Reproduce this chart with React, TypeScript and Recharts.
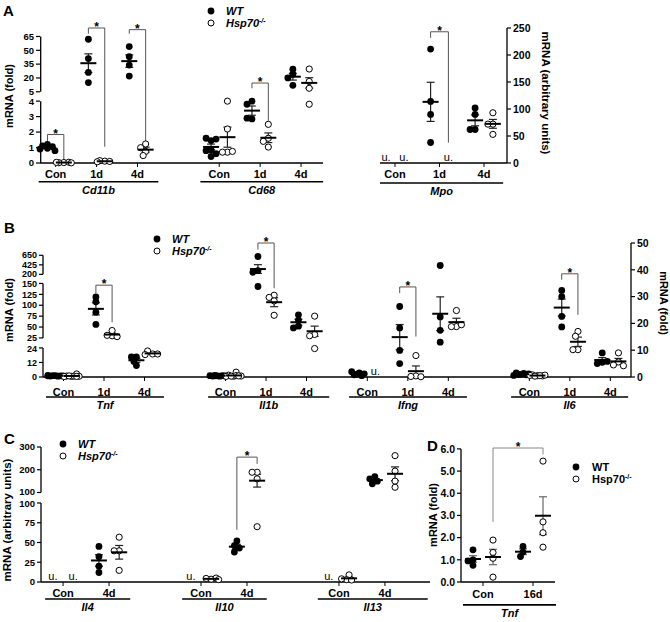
import React from 'react';
import { ScatterChart, Scatter, XAxis, YAxis, ErrorBar, ReferenceLine } from 'recharts';

const FONT = '"Liberation Sans", Arial, Helvetica, sans-serif';

// ---------------- data ----------------
const condTime = ['Con', '1d', '4d'];
const condIL = ['Con', '4d'];
const condD = ['Con', '16d'];

// Panel A
const cd11bWT = [[1.2, 1.1, 1.05, 0.95, 0.9, 0.8], [62, 41, 26, 15], [54, 43, 34, 22]];
const cd11bKO = [[0.03, 0.02, 0.05, 0.01, 0.04], [0.12, 0.15, 0.1, 0.08], [1.23, 0.99, 0.75, 0.48]];
const cd68WT = [[1.45, 1.6, 1.55, 0.85, 0.8, 0.42, 0.6], [4.0, 3.8, 2.85, 2.9], [29.5, 24, 20, 12]];
const cd68KO = [[4.0, 2.2, 0.7, 0.7, 0.75], [2.5, 1.6, 1.4, 1.03], [29.7, 16.2, 8.8, 3.8]];
const mpoWT = [[], [211, 114, 90, 38], [102, 90, 62, 62]];
const mpoKO = [[], [], [93, 72, 72, 53]];

// Panel B
const tnfWT = [[1.2, 0.8, 1.0, 1.3, 0.7, 1.1, 0.9, 1.0], [108, 119, 84, 56], [16.5, 16.5, 12.8, 9.5]];
const tnfKO = [[0.5, 0.8, 2.5, 0.6, 0.4, 0.7, 0.9, 0.5], [30, 31, 42, 28], [19, 21.5, 19, 18.5]];
const il1bWT = [[1.0, 0.8, 1.2, 0.9, 1.1, 0.7, 1.3, 1.0], [622, 286, 250, 143], [78, 66, 52, 48]];
const il1bKO = [[0.6, 1.5, 4.0, 0.8, 0.5, 1.2, 0.7, 0.9], [123, 118, 110, 77], [75, 33, 30, 23.5]];
const ifngWT = [[1.5, 0.8, 1.2, 2.0, 0.5, 1.0], [26.3, 18.3, 9.9, 5], [41.6, 22.4, 17.4, 13]];
const ifngKO = [[], [8, 0.4, 0.2, 0.1], [24.8, 18.8, 18.8, 19.5]];
const il6WT = [[1.0, 1.5, 0.8, 1.2, 0.6, 1.3, 0.9], [30, 32.3, 22.6, 18.7], [9, 5.5, 5, 5.8]];
const il6KO = [[0.5, 0.8, 0.4, 0.6, 0.7, 0.3, 0.5], [17, 15.2, 10.2, 10.2], [9, 5.6, 4.5, 4.2]];

// Panel C
const il4WT = [[], [45, 32, 20, 12]];
const il4KO = [[], [56.7, 39.5, 39.5, 14.7]];
const il10WT = [[], [52, 46, 43, 38]];
const il10KO = [[3.5, 4.5, 5, 3], [189, 189, 160, 70]];
const il13WT = [[], [170, 160, 150, 138]];
const il13KO = [[9, 3, 2.5, 4], [262, 194, 150, 123]];

// Panel D
const tnf16WT = [[1.45, 1.0, 0.95, 0.75], [1.6, 1.35, 1.15]];
const tnf16KO = [[1.89, 1.33, 1.07, 0.22], [5.45, 2.71, 2.22, 1.57]];

// ---------------- helpers ----------------
type Seg = { v0: number; v1: number; d0: number; d1: number; ticks: number[] };

const makeMap = (segs: Seg[]) => (v: number): number => {
  const lin = (s: Seg, x: number) => s.d0 + ((x - s.v0) * (s.d1 - s.d0)) / (s.v1 - s.v0);
  if (v <= segs[0].v0) return lin(segs[0], v);
  for (let i = 0; i < segs.length; i++) {
    const s = segs[i];
    if (v <= s.v1) return lin(s, v);
    const n = segs[i + 1];
    if (n && v < n.v0) return s.d1 + ((v - s.v1) * (n.d0 - s.d1)) / (n.v0 - s.v1);
  }
  return lin(segs[segs.length - 1], v);
};

const OFFS = [0, -2.5, 2.5, -5, 5, -7.5, 7.5];
const MIN_D = 5;

const xTickStyle = { fill: '#000', fontSize: 11, fontWeight: 'bold', fontFamily: FONT };

function DotChart({ cfg }: { cfg: any }) {
  const PL = 46, PR = 46, PT = 34, PB = 46, YW = 38, XH = 22;
  const hasL = !!cfg.segL, hasR = !!cfg.segR;
  const mapL = hasL ? makeMap(cfg.segL) : null;
  const mapR = hasR ? makeMap(cfg.segR) : null;
  const mapFor = (a: string) => (a === 'l' ? mapL : mapR) as (v: number) => number;
  const pxPerX = cfg.w / (cfg.xDomain[1] - cfg.xDomain[0]);
  const mk = () => ({ wt: [] as any[], ko: [] as any[], mean: [] as any[], u: [] as any[], star: [] as any[] });
  const S: any = { l: mk(), r: mk() };

  cfg.genes.forEach((g: any) => {
    const m = mapFor(g.axis);
    g.pos.forEach((p: number, i: number) => {
      const sets: any[] = [['wt', g.wt[i], -1], ['ko', g.ko[i], 1]];
      sets.forEach(([key, vals, s]) => {
        const cx = p + s * cfg.off;
        if (!vals || vals.length === 0) {
          S[g.axis].u.push({ x: cx, y: 0 });
          return;
        }
        const placed: number[][] = [];
        vals.forEach((v: number) => {
          const y = m(v);
          let best = 0, bestD = -1;
          for (const o of OFFS) {
            let dmin = Infinity;
            placed.forEach(([po, py]) => { dmin = Math.min(dmin, Math.hypot(po - o, py - y)); });
            if (dmin >= MIN_D) { best = o; break; }
            if (dmin > bestD) { bestD = dmin; best = o; }
          }
          placed.push([best, y]);
          S[g.axis][key].push({ x: cx + best / pxPerX, y });
        });
        const n = vals.length;
        const mean = vals.reduce((a: number, b: number) => a + b, 0) / n;
        const sd = n > 1 ? Math.sqrt(vals.reduce((a: number, b: number) => a + (b - mean) ** 2, 0) / (n - 1)) : 0;
        const sem = sd / Math.sqrt(n);
        const ym = m(mean);
        S[g.axis].mean.push({ x: cx, y: ym, e: [ym - m(mean - sem), m(mean + sem) - ym] });
      });
    });
  });

  const brLines: any[] = [];
  cfg.brackets.forEach((b: any) => {
    const g = cfg.genes[b.g];
    const m = mapFor(g.axis);
    const x1 = g.pos[b.c1] + b.s1 * cfg.off;
    const x2 = g.pos[b.c2] + b.s2 * cfg.off;
    const t = m(b.top);
    S[g.axis].star.push({ x: (x1 + x2) / 2, y: t });
    brLines.push({ a: g.axis, seg: [{ x: x1, y: m(b.b1) }, { x: x1, y: t }] });
    brLines.push({ a: g.axis, seg: [{ x: x1, y: t }, { x: x2, y: t }] });
    brLines.push({ a: g.axis, seg: [{ x: x2, y: t }, { x: x2, y: m(b.b2) }] });
  });

  const xTicks: number[] = [];
  const xLab: string[] = [];
  cfg.genes.forEach((g: any) => g.pos.forEach((p: number, i: number) => { xTicks.push(p); xLab.push(g.conds[i]); }));
  const xFmt = (v: number) => {
    const k = xTicks.findIndex((t) => Math.abs(t - v) < 1e-6);
    return k >= 0 ? xLab[k] : '';
  };

  // y ticks: labels per segment; labels at a break are nudged apart slightly
  const yInfo = (segs: Seg[]) => {
    const ds: number[] = [];
    const ls: string[] = [];
    const sh: number[] = [];
    segs.forEach((s, si) => s.ticks.forEach((t, ti) => {
      ds.push(s.d0 + ((t - s.v0) * (s.d1 - s.d0)) / (s.v1 - s.v0));
      ls.push(cfg.fmt ? cfg.fmt(t) : String(t));
      let shift = 0;
      if (si < segs.length - 1 && ti === s.ticks.length - 1) shift = 0.6;
      if (si > 0 && ti === 0) shift = -0.6;
      sh.push(shift);
    }));
    const find = (v: number) => {
      let k = 0, bd = Infinity;
      ds.forEach((d, i) => { if (Math.abs(d - v) < bd) { bd = Math.abs(d - v); k = i; } });
      return k;
    };
    return { ds, ls, sh, find };
  };
  const yl = hasL ? yInfo(cfg.segL) : null;
  const yr = hasR ? yInfo(cfg.segR) : null;
  const mainAxis = hasL ? 'l' : 'r';

  const makeYTick = (info: any, anchor: string, size: number) => (p: any) => {
    const k = info.find(p.payload.value);
    return (
      <text x={p.x} y={p.y + info.sh[k]} dy="0.355em" textAnchor={anchor} fontSize={size} fontWeight="bold" fontFamily={FONT} fill="#000">
        {info.ls[k]}
      </text>
    );
  };

  const dotShape = (p: any) => <circle cx={p.cx} cy={p.cy} r={3.4} fill="#000" />;
  const openShape = (p: any) => <circle cx={p.cx} cy={p.cy} r={3.1} fill="#fff" stroke="#000" strokeWidth={1} />;
  const meanShape = (p: any) => <line x1={p.cx - 8} x2={p.cx + 8} y1={p.cy} y2={p.cy} stroke="#000" strokeWidth={2} />;
  const uShape = (p: any) => (
    <text x={p.cx} y={p.cy - 2} textAnchor="middle" fontSize={11} fontFamily={FONT} fill="#000">u.</text>
  );
  const starShape = (p: any) => (
    <text x={p.cx} y={p.cy + 3} textAnchor="middle" fontSize={12} fontWeight="bold" fontFamily={FONT} fill="#000">*</text>
  );

  const series = (a: string) => {
    const s = S[a];
    const out: any[] = [];
    if (s.wt.length) out.push(<Scatter key={a + 'wt'} yAxisId={a} data={s.wt} shape={dotShape} isAnimationActive={false} />);
    if (s.ko.length) out.push(<Scatter key={a + 'ko'} yAxisId={a} data={s.ko} shape={openShape} isAnimationActive={false} />);
    if (s.mean.length) out.push(
      <Scatter key={a + 'mean'} yAxisId={a} data={s.mean} shape={meanShape} isAnimationActive={false}>
        <ErrorBar dataKey="e" direction="y" width={4} stroke={cfg.errColor || '#222'} strokeWidth={1.2} />
      </Scatter>
    );
    if (s.u.length) out.push(<Scatter key={a + 'u'} yAxisId={a} data={s.u} shape={uShape} isAnimationActive={false} />);
    if (s.star.length) out.push(<Scatter key={a + 'star'} yAxisId={a} data={s.star} shape={starShape} isAnimationActive={false} />);
    return out;
  };

  return (
    <div style={{ position: 'absolute', left: cfg.left - PL, top: cfg.top - PT }}>
      <ScatterChart
        width={cfg.w + PL + PR}
        height={cfg.h + PT + PB}
        margin={{ top: PT, bottom: PB - XH, left: hasL ? PL - YW : PL, right: hasR ? PR - YW : PR }}
      >
        <XAxis
          type="number"
          dataKey="x"
          domain={cfg.xDomain}
          ticks={xTicks}
          interval={0}
          tickFormatter={xFmt}
          height={XH}
          tickSize={4}
          tickMargin={cfg.tickMargin}
          axisLine={{ stroke: '#000', strokeWidth: 1.3 }}
          tickLine={{ stroke: '#000', strokeWidth: 1 }}
          tick={xTickStyle}
        />
        {hasL && (
          <YAxis
            yAxisId="l"
            type="number"
            dataKey="y"
            domain={[0, cfg.h]}
            ticks={yl!.ds}
            interval={0}
            width={YW}
            tickSize={4}
            tickMargin={2}
            axisLine={false}
            tickLine={{ stroke: '#000', strokeWidth: 1.2 }}
            tick={makeYTick(yl, 'end', cfg.yFont || 9)}
          />
        )}
        {hasR && (
          <YAxis
            yAxisId="r"
            orientation="right"
            type="number"
            dataKey="y"
            domain={[0, cfg.h]}
            ticks={yr!.ds}
            interval={0}
            width={YW}
            tickSize={4}
            tickMargin={2}
            axisLine={false}
            tickLine={{ stroke: '#000', strokeWidth: 1.2 }}
            tick={makeYTick(yr, 'start', 10.5)}
          />
        )}
        {hasL && cfg.segL.map((s: Seg, i: number) => (
          <ReferenceLine key={'al' + i} yAxisId="l" ifOverflow="visible" stroke="#000" strokeWidth={1.3}
            segment={[{ x: cfg.xDomain[0], y: s.d0 }, { x: cfg.xDomain[0], y: s.d1 }]} />
        ))}
        {hasR && cfg.segR.map((s: Seg, i: number) => (
          <ReferenceLine key={'ar' + i} yAxisId="r" ifOverflow="visible" stroke="#000" strokeWidth={1.3}
            segment={[{ x: cfg.xDomain[1], y: s.d0 }, { x: cfg.xDomain[1], y: s.d1 }]} />
        ))}
        {cfg.genes.map((g: any, i: number) => (
          <ReferenceLine key={'gl' + i} yAxisId={mainAxis} ifOverflow="visible" stroke="#000" strokeWidth={1.6}
            segment={[{ x: g.span[0], y: cfg.ud }, { x: g.span[1], y: cfg.ud }]}
            label={{ value: g.name, position: 'bottom', offset: 4, fill: '#000', fontSize: 11, fontWeight: 'bold', fontStyle: 'italic', fontFamily: FONT }} />
        ))}
        {brLines.map((b, i) => (
          <ReferenceLine key={'br' + i} yAxisId={b.a} ifOverflow="visible" stroke={cfg.brColor || '#555'} strokeWidth={1} segment={b.seg} />
        ))}
        {hasL && series('l')}
        {hasR && series('r')}
      </ScatterChart>
    </div>
  );
}

// ---------------- panel layouts ----------------
const cfgA = {
  left: 40, top: 28, w: 283, h: 135, xDomain: [0.634, 7.537], off: 0.2, ud: -20, tickMargin: 3, yFont: 9.5,
  segL: [
    { v0: 0, v1: 4, d0: 0, d1: 66, ticks: [0, 1, 2, 3, 4] },
    { v0: 5, v1: 65, d0: 76, d1: 135, ticks: [5, 20, 35, 50, 65] },
  ],
  genes: [
    { name: 'Cd11b', pos: [1, 2, 3], conds: condTime, wt: cd11bWT, ko: cd11bKO, axis: 'l', span: [0.585, 3.51] },
    { name: 'Cd68', pos: [5, 6, 7], conds: condTime, wt: cd68WT, ko: cd68KO, axis: 'l', span: [4.54, 7.54] },
  ],
  brackets: [
    { g: 0, c1: 0, s1: -1, c2: 0, s2: 1, top: 1.84, b1: 1.29, b2: 0.18 },
    { g: 0, c1: 1, s1: -1, c2: 1, s2: 1, top: 74.2, b1: 68, b2: 1.05 },
    { g: 0, c1: 2, s1: -1, c2: 2, s2: 1, top: 72.4, b1: 68, b2: 1.05 },
    { g: 1, c1: 1, s1: -1, c2: 1, s2: 1, top: 14.5, b1: 8.8, b2: 2.7 },
  ],
};

const cfgMpo = {
  left: 380, top: 28, w: 127, h: 135, xDomain: [0.663, 3.517], off: 0.2, ud: -20, tickMargin: 3,
  segR: [{ v0: 0, v1: 250, d0: 0, d1: 135, ticks: [0, 50, 100, 150, 200, 250] }],
  genes: [{ name: 'Mpo', pos: [1, 2, 3], conds: condTime, wt: mpoWT, ko: mpoKO, axis: 'r', span: [0.663, 3.43] }],
  brackets: [{ g: 0, c1: 1, s1: -1, c2: 1, s2: 1, top: 243, b1: 232, b2: 37.6 }],
};

const cfgB = {
  left: 43, top: 243, w: 588, h: 134, xDomain: [0.494, 15.01], off: 0.2, ud: -22, tickMargin: 7, yFont: 9,
  segL: [
    { v0: 0, v1: 24, d0: 0, d1: 32, ticks: [0, 12, 24] },
    { v0: 25, v1: 150, d0: 43, d1: 103, ticks: [25, 50, 75, 100, 125, 150] },
    { v0: 200, v1: 650, d0: 113, d1: 134, ticks: [200, 425, 650] },
  ],
  segR: [{ v0: 0, v1: 50, d0: 0, d1: 134, ticks: [0, 10, 20, 30, 40, 50] }],
  genes: [
    { name: 'Tnf', pos: [1, 2, 3], conds: condTime, wt: tnfWT, ko: tnfKO, axis: 'l', span: [0.568, 3.48] },
    { name: 'Il1b', pos: [5, 6, 7], conds: condTime, wt: il1bWT, ko: il1bKO, axis: 'l', span: [4.57, 7.56] },
    { name: 'Ifng', pos: [8.5, 9.5, 10.5], conds: condTime, wt: ifngWT, ko: ifngKO, axis: 'r', span: [8.05, 10.96] },
    { name: 'Il6', pos: [12.5, 13.5, 14.5], conds: condTime, wt: il6WT, ko: il6KO, axis: 'r', span: [12.05, 14.94] },
  ],
  brackets: [
    { g: 0, c1: 1, s1: -1, c2: 1, s2: 1, top: 146, b1: 127, b2: 61 },
    { g: 1, c1: 1, s1: -1, c2: 1, s2: 1, top: 940, b1: 785, b2: 139 },
    { g: 2, c1: 1, s1: -1, c2: 1, s2: 1, top: 33.6, b1: 31.3, b2: 15.1 },
    { g: 3, c1: 1, s1: -1, c2: 1, s2: 1, top: 38.5, b1: 36.3, b2: 23.2 },
  ],
};

const cfgC = {
  left: 41, top: 447, w: 389, h: 135, xDomain: [0.52, 8.98], off: 0.22, ud: -17, tickMargin: 3, yFont: 9.5,
  segL: [
    { v0: 0, v1: 100, d0: 0, d1: 79, ticks: [0, 25, 50, 75, 100] },
    { v0: 100, v1: 300, d0: 89.5, d1: 135, ticks: [100, 200, 300] },
  ],
  genes: [
    { name: 'Il4', pos: [1, 2], conds: condIL, wt: il4WT, ko: il4KO, axis: 'l', span: [0.61, 2.46] },
    { name: 'Il10', pos: [4, 5], conds: condIL, wt: il10WT, ko: il10KO, axis: 'l', span: [3.59, 5.43] },
    { name: 'Il13', pos: [7, 8], conds: condIL, wt: il13WT, ko: il13KO, axis: 'l', span: [6.54, 8.93] },
  ],
  brackets: [{ g: 1, c1: 1, s1: -1, c2: 1, s2: 1, top: 255.5, b1: 66, b2: 226 }],
};

const cfgD = {
  left: 461, top: 448, w: 94, h: 134, xDomain: [0.56, 2.44], off: 0.2, ud: -23, tickMargin: 4, yFont: 10.5,
  fmt: (v: number) => v.toFixed(1), errColor: '#666', brColor: '#888',
  segL: [{ v0: 0, v1: 6, d0: 0, d1: 134, ticks: [0, 1, 2, 3, 4, 5, 6] }],
  genes: [{ name: 'Tnf', pos: [1, 2], conds: condD, wt: tnf16WT, ko: tnf16KO, axis: 'l', span: [0.6, 2.46] }],
  brackets: [{ g: 0, c1: 0, s1: 1, c2: 1, s2: 1, top: 6.04, b1: 2.71, b2: 5.75 }],
};

// ---------------- text overlays ----------------
const Letter = ({ x, y, t }: any) => (
  <div style={{ position: 'absolute', left: x, top: y, font: `bold 15px ${FONT}`, lineHeight: '15px' }}>{t}</div>
);

const Title = ({ x, y, t, rot, size = 11 }: any) => (
  <div style={{ position: 'absolute', left: x, top: y, transform: `translate(-50%, -50%) rotate(${rot}deg)`, whiteSpace: 'nowrap', font: `bold ${size}px ${FONT}`, lineHeight: 1 }}>{t}</div>
);

const LegRow = ({ x, y, tx, filled, italic, children }: any) => (
  <div style={{ position: 'absolute', left: x - 5, top: y - 6, height: 12, display: 'flex', alignItems: 'center', whiteSpace: 'nowrap', font: `${italic ? 'italic ' : ''}bold 11px ${FONT}` }}>
    <svg width={10} height={10} style={{ flex: 'none' }}>
      {filled ? <circle cx={5} cy={5} r={3.4} fill="#000" /> : <circle cx={5} cy={5} r={3} fill="#fff" stroke="#000" strokeWidth={1} />}
    </svg>
    <span style={{ marginLeft: tx - x - 5 }}>{children}</span>
  </div>
);

const Leg = ({ x, y1, y2, tx, italic = true }: any) => (
  <>
    <LegRow x={x} y={y1} tx={tx} filled italic={italic}>WT</LegRow>
    <LegRow x={x} y={y2} tx={tx} filled={false} italic={italic}>
      Hsp70<span style={{ fontSize: 7, position: 'relative', top: -4 }}>-/-</span>
    </LegRow>
  </>
);

export default function App() {
  return (
    <div style={{ position: 'absolute', left: 0, top: 0, width: 670, height: 622, background: '#fff', color: '#000', overflow: 'hidden', fontFamily: FONT }}>
      <DotChart cfg={cfgA} />
      <DotChart cfg={cfgMpo} />
      <DotChart cfg={cfgB} />
      <DotChart cfg={cfgC} />
      <DotChart cfg={cfgD} />

      <Letter x={3} y={3} t="A" />
      <Letter x={4} y={220} t="B" />
      <Letter x={4} y={431} t="C" />
      <Letter x={427} y={438} t="D" />

      <Title x={9} y={96} t="mRNA (fold)" rot={-90} />
      <Title x={545} y={93} t="mRNA (arbitrary units)" rot={90} size={11.5} />
      <Title x={9} y={310} t="mRNA (fold)" rot={-90} />
      <Title x={663} y={303} t="mRNA (fold)" rot={90} />
      <Title x={8} y={520} t="mRNA (arbitrary units)" rot={-90} size={11.5} />
      <Title x={433} y={515} t="mRNA (fold)" rot={-90} size={11} />

      <Leg x={211} y1={11} y2={22.5} tx={226} />
      <Leg x={157} y1={239} y2={250.5} tx={172} />
      <Leg x={63} y1={444} y2={456} tx={78} />
      <Leg x={576} y1={467} y2={479} tx={592} italic={false} />
    </div>
  );
}
